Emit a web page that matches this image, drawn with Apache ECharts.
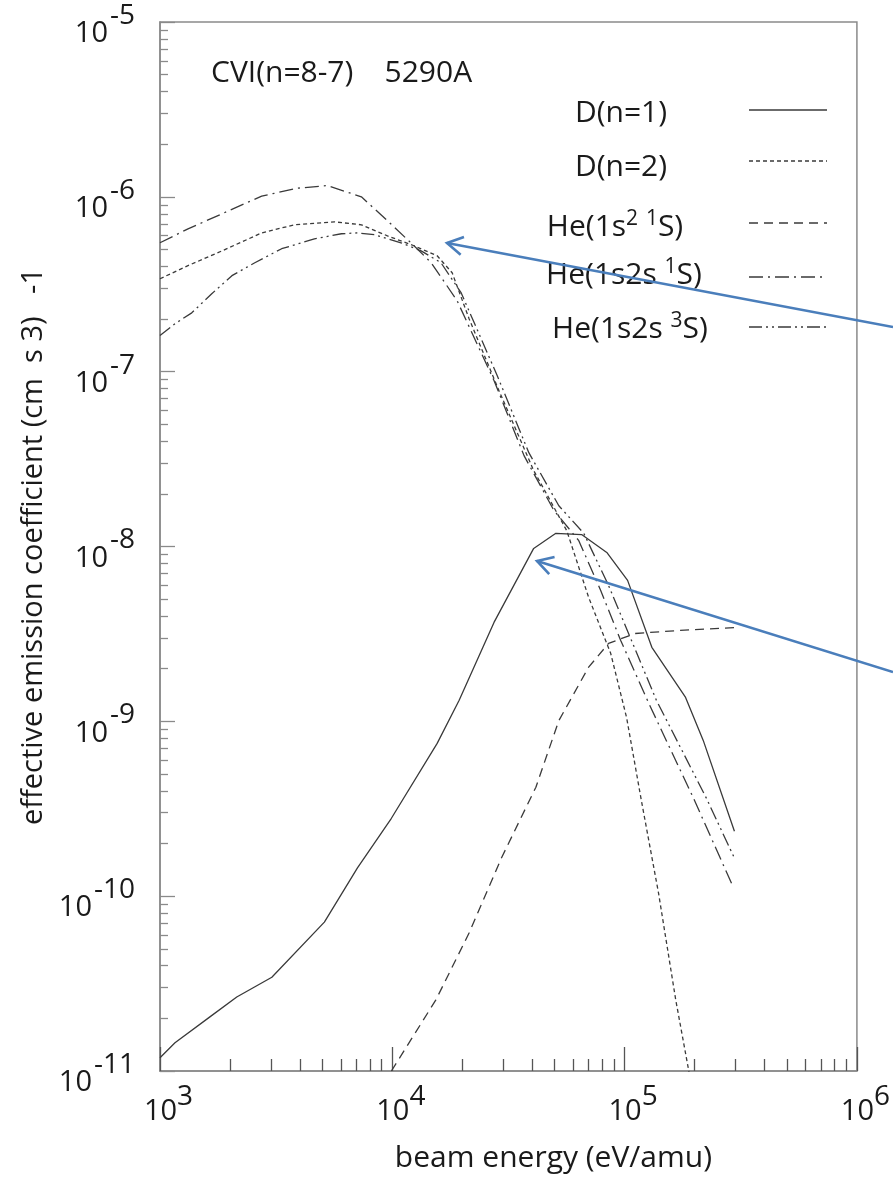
<!DOCTYPE html>
<html>
<head>
<meta charset="utf-8">
<script src="https://cdn.jsdelivr.net/npm/echarts@6.0.0/dist/echarts.min.js"></script>
<style>
  html, body { margin: 0; padding: 0; background: #fff; }
  #main { width: 893px; height: 1190px; }
</style>
</head>
<body>
<div id="main"></div>
<script>
// beam energy (eV/amu) and effective emission coefficient
const energyD1 = [1000, 1160, 1640, 2140, 3030, 5100, 7080, 9910, 15600, 19400, 27400, 40600, 50600, 65300, 83800, 103000, 131000, 183000, 218000, 297000];
const valueD1 = [1.19e-11, 1.45e-11, 2.04e-11, 2.65e-11, 3.44e-11, 7.1e-11, 1.45e-10, 2.79e-10, 7.48e-10, 1.32e-9, 3.68e-9, 9.75e-9, 1.19e-8, 1.17e-8, 9.25e-9, 6.4e-9, 2.65e-9, 1.37e-9, 7.78e-10, 2.35e-10];

const energyD2 = [1000, 1320, 1850, 2740, 3790, 5640, 7360, 9530, 12400, 15600, 18100, 21400, 28800, 40600, 56400, 70000, 87100, 102000, 118000, 140000, 166000, 192000];
const valueD2 = [3.40e-7, 4.04e-7, 4.91e-7, 6.22e-7, 6.92e-7, 7.19e-7, 6.92e-7, 5.98e-7, 5.25e-7, 4.6e-7, 3.68e-7, 2.01e-7, 7.78e-8, 2.72e-8, 1.23e-8, 5.12e-9, 2.45e-9, 1.05e-9, 3.54e-10, 1.04e-10, 2.55e-11, 8.9e-12];

const energyHe1s2 = [9910, 15400, 21400, 29600, 41500, 52100, 70000, 85300, 111000, 171000, 299000];
const valueHe1s2 = [1.0e-11, 2.55e-11, 6.15e-11, 1.67e-10, 4.2e-10, 1.01e-9, 2.04e-9, 2.79e-9, 3.18e-9, 3.31e-9, 3.44e-9];

const energyHeS1 = [1000, 1320, 1850, 2740, 3910, 5260, 7360, 9530, 12400, 14700, 19000, 27400, 36900, 49600, 63500, 78900, 96200, 127000, 198000, 294000];
const valueHeS1 = [5.46e-7, 6.56e-7, 8.0e-7, 1.01e-6, 1.12e-6, 1.16e-6, 1.0e-6, 7.3e-7, 5.25e-7, 4.2e-7, 2.55e-7, 8.9e-8, 3.31e-8, 1.61e-8, 1.08e-8, 5.61e-9, 2.9e-9, 1.27e-9, 3.63e-10, 1.12e-10];

const energyHeS3 = [1000, 1160, 1370, 1670, 2040, 2560, 3340, 4620, 6040, 7080, 8380, 10900, 13300, 16200, 19800, 28300, 38700, 52100, 66700, 85300, 104000, 137000, 225000, 297000];
const valueHeS3 = [1.61e-7, 1.88e-7, 2.17e-7, 2.79e-7, 3.54e-7, 4.2e-7, 5.05e-7, 5.75e-7, 6.15e-7, 6.22e-7, 6.07e-7, 5.46e-7, 4.91e-7, 4.2e-7, 2.82e-7, 9.48e-8, 3.44e-8, 1.71e-8, 1.19e-8, 5.98e-9, 3.18e-9, 1.32e-9, 3.63e-10, 1.65e-10];

// axis decades and minor tick multipliers
const xDecades = [3, 4, 5];
const yDecades = [-11, -10, -9, -8, -7, -6];
const minorSteps = [2, 3, 4, 5, 6, 7, 8, 9];

const FONT = '"Open Sans", "Noto Sans", sans-serif';
const INK = '#1a1a1a';
const LINE = '#3a3a3a';
const FRAME = '#8a8a8a';

function zip(xs, ys) {
  return xs.map((x, i) => [x, ys[i]]);
}
function minorLogs(decades) {
  let out = [];
  decades.forEach(d => minorSteps.forEach(m => out.push(d + Math.log10(m))));
  return out;
}

let chartDom = document.getElementById('main');
let myChart = echarts.init(chartDom);

const seriesDefs = [
  { name: 'D(n=1)', data: zip(energyD1, valueD1), type: 'solid' },
  { name: 'D(n=2)', data: zip(energyD2, valueD2), type: [4, 3] },
  { name: 'He(1s2 1S)', data: zip(energyHe1s2, valueHe1s2), type: [9, 6] },
  { name: 'He(1s2s 1S)', data: zip(energyHeS1, valueHeS1), type: [14, 5, 2, 5] },
  { name: 'He(1s2s 3S)', data: zip(energyHeS3, valueHeS3), type: [13, 4, 2, 4, 2, 4] }
];

// legend drawn as text + sample line, placed like the original
const legendRows = [
  { text: 'D(n=1)', cx: 621, cy: 113, y: 110, type: null },
  { text: 'D(n=2)', cx: 621, cy: 167, y: 161, type: [4, 3] },
  { text: 'He(1s{s|2} {s|1}S)', cx: 615, cy: 227, y: 223, type: [9, 6] },
  { text: 'He(1s2s {s|1}S)', cx: 624, cy: 275, y: 277, type: [14, 5, 2, 5] },
  { text: 'He(1s2s {s|3}S)', cx: 630, cy: 329, y: 327, type: [13, 4, 2, 4, 2, 4] }
];

// blue annotation arrows (tip, tail)
const arrows = [
  { tip: [447, 243], tail: [893, 327] },
  { tip: [537, 561], tail: [893, 672] }
];

let graphics = [];
legendRows.forEach(r => {
  graphics.push({
    type: 'text',
    x: r.cx, y: r.cy,
    style: {
      text: r.text,
      font: '30px ' + FONT,
      fill: INK,
      align: 'center',
      verticalAlign: 'middle',
      rich: {
        s: { fontSize: 21, fontFamily: FONT, fill: INK, padding: [0, 0, 16, 0] }
      }
    }
  });
  graphics.push({
    type: 'line',
    shape: { x1: 749, y1: r.y, x2: 827, y2: r.y },
    style: { stroke: LINE, lineWidth: 1.3, lineDash: r.type }
  });
});

arrows.forEach(a => {
  const dx = a.tail[0] - a.tip[0], dy = a.tail[1] - a.tip[1];
  const len = Math.sqrt(dx * dx + dy * dy);
  const ux = dx / len, uy = dy / len;
  const wing = 18, c = Math.cos(Math.PI / 6), s = Math.sin(Math.PI / 6);
  const w1 = [a.tip[0] + wing * (ux * c - uy * s), a.tip[1] + wing * (ux * s + uy * c)];
  const w2 = [a.tip[0] + wing * (ux * c + uy * s), a.tip[1] + wing * (-ux * s + uy * c)];
  graphics.push({
    type: 'line',
    z: 10,
    shape: { x1: a.tail[0], y1: a.tail[1], x2: a.tip[0], y2: a.tip[1] },
    style: { stroke: '#4a7ebb', lineWidth: 2.6 }
  });
  graphics.push({
    type: 'polyline',
    z: 10,
    shape: { points: [w1, a.tip, w2] },
    style: { stroke: '#4a7ebb', lineWidth: 2.6, fill: null }
  });
});

const labelRich = {
  b: { fontSize: 29, fontFamily: FONT, color: INK },
  s: { fontSize: 28, fontFamily: FONT, color: INK }
};

let option = {
  animation: false,
  backgroundColor: '#fff',
  title: {
    text: 'CVI(n=8-7)    5290A',
    left: 206,
    top: 53,
    textStyle: { fontSize: 30, fontWeight: 'normal', fontFamily: FONT, color: INK }
  },
  grid: {
    left: 160, right: 34, top: 22, bottom: 119,
    show: true,
    borderColor: FRAME,
    borderWidth: 1.5,
    containLabel: false
  },
  xAxis: [
    {
      type: 'log',
      logBase: 10,
      min: 1e3,
      max: 1e6,
      splitNumber: 3,
      name: 'beam energy (eV/amu)',
      nameLocation: 'middle',
      nameGap: 72,
      nameTextStyle: { fontSize: 30, fontFamily: FONT, color: INK, padding: [0, 0, 0, 90] },
      axisLine: { lineStyle: { color: FRAME, width: 1.5 } },
      axisTick: { inside: true, length: 24, lineStyle: { color: '#555', width: 1.3 } },
      splitLine: { show: false },
      axisLabel: {
        margin: 12,
        formatter: v => '{b|10}{s|' + Math.round(Math.log10(v)) + '}',
        rich: {
          b: Object.assign({}, labelRich.b, { padding: [14, 0, 0, 17] }),
          s: Object.assign({}, labelRich.s, { padding: [0, 0, 14, 0] })
        }
      }
    },
    {
      type: 'value',
      min: 3,
      max: 6,
      position: 'bottom',
      axisLine: { show: false },
      axisTick: { inside: true, length: 12, customValues: minorLogs(xDecades), lineStyle: { color: '#555', width: 1.3 } },
      axisLabel: { show: false },
      splitLine: { show: false }
    }
  ],
  yAxis: [
    {
      type: 'log',
      logBase: 10,
      min: 1e-11,
      max: 1e-5,
      splitNumber: 6,
      name: 'effective emission coefficient (cm  s 3)   -1',
      nameLocation: 'middle',
      nameGap: 110,
      nameTextStyle: { fontSize: 29, fontFamily: FONT, color: INK },
      axisLine: { lineStyle: { color: FRAME, width: 1.5 } },
      axisTick: { inside: true, length: 15, lineStyle: { color: FRAME, width: 1.3 } },
      splitLine: { show: false },
      axisLabel: {
        margin: 25,
        formatter: v => '{b|10}{s|' + Math.round(Math.log10(v)) + '}',
        rich: {
          b: Object.assign({}, labelRich.b, { padding: [24, 0, 0, 0] }),
          s: Object.assign({}, labelRich.s, { padding: [0, 0, 12, 2] })
        }
      }
    },
    {
      type: 'value',
      min: -11,
      max: -5,
      position: 'left',
      axisLine: { show: false },
      axisTick: { inside: true, length: 8, customValues: minorLogs(yDecades), lineStyle: { color: FRAME, width: 1.3 } },
      axisLabel: { show: false },
      splitLine: { show: false }
    }
  ],
  graphic: graphics,
  series: seriesDefs.map(d => ({
    name: d.name,
    type: 'line',
    xAxisIndex: 0,
    yAxisIndex: 0,
    data: d.data,
    symbol: 'none',
    clip: true,
    lineStyle: { color: LINE, width: 1.3, type: d.type }
  }))
};

myChart.setOption(option);
</script>
</body>
</html>
